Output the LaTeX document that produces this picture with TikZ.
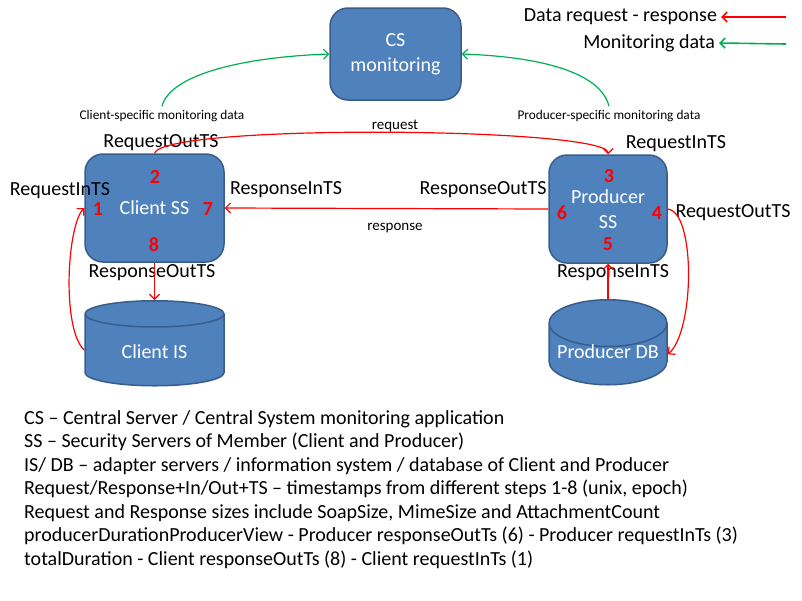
\documentclass[tikz,border=0pt]{standalone}
\usepackage{fontspec}
\setmainfont{Carlito}
\usetikzlibrary{shapes.geometric,arrows.meta}

\definecolor{boxfill}{HTML}{4F81BD}
\definecolor{boxline}{HTML}{385D8A}
\definecolor{mongreen}{HTML}{00B050}

\begin{document}
\begin{tikzpicture}
    [
    x=1pt,y=-1pt,
    server/.style={rectangle,draw=boxline,line width=1.5pt,fill=boxfill,rounded corners=18pt,text=white,align=center,inner sep=0pt,font=\fontsize{20}{25}\selectfont},
    store/.style={cylinder,shape border rotate=90,aspect=0.4,draw=boxline,line width=1.5pt,fill=boxfill,text=white,inner sep=0pt,minimum width=139pt,minimum height=85pt,anchor=north,font=\fontsize{20}{25}\selectfont},
    ts/.style={inner sep=0pt,font=\fontsize{20}{24}\selectfont},
    stepno/.style={inner sep=0pt,text=red,font=\bfseries\fontsize{20}{24}\selectfont},
    small/.style={inner sep=0pt,outer sep=4pt,font=\fontsize{13.3}{16}\selectfont},
    req/.style={draw=red,line width=1.2pt,-{Straight Barb[length=5pt,width=10pt]}},
    mon/.style={draw=mongreen,line width=1.2pt,-{Straight Barb[length=5pt,width=10pt]}}
    ]
    \useasboundingbox (0,0) rectangle (802,600);
    % servers and storages
    \node (cs) at (395.5,54) [server,minimum width=131pt,minimum height=92pt] {CS\\monitoring};
    \node (css) at (154.5,208) [server,minimum width=139pt,minimum height=108pt] {Client SS};
    \node (pss) at (608,209) [server,minimum width=118pt,minimum height=108pt] {Producer\\SS};
    \node (cis) at (154.5,300) [store] {\raisebox{-8pt}[0pt][0pt]{Client IS}};
    \node (pdb) at (608,299) [store,minimum width=118pt,aspect=0.46] {\raisebox{-4pt}[0pt][0pt]{Producer DB}};
    % step numbers
    \node (n1) at (98,209) [stepno] {1};
    \node (n2) at (155,177) [stepno] {2};
    \node (n7) at (208,209) [stepno] {7};
    \node (n8) at (154,245) [stepno] {8};
    \node (n3) at (609,176) [stepno] {3};
    \node (n4) at (657,213) [stepno] {4};
    \node (n5) at (608,244) [stepno] {5};
    \node (n6) at (562,213) [stepno] {6};
    % timestamps
    \node (cin) at (60,191) [ts] {RequestInTS};
    \node (cout) at (161,143) [ts] {RequestOutTS};
    \node (crin) at (286,190) [ts] {ResponseInTS};
    \node (crout) at (152,273) [ts] {ResponseOutTS};
    \node (pin) at (676,144) [ts] {RequestInTS};
    \node (pout) at (733,213) [ts] {RequestOutTS};
    \node (prout) at (483,190) [ts] {ResponseOutTS};
    \node (prin) at (613,273) [ts] {ResponseInTS};
    % monitoring labels
    \node (cmon) at (162,116) [small] {Client-specific monitoring data};
    \node (pmon) at (609,116) [small] {Producer-specific monitoring data};
    \node (rq) at (395,126) [small,font=\fontsize{15}{18}\selectfont] {request};
    \node (rs) at (395,228) [small,font=\fontsize{15}{18}\selectfont] {response};
    % legend
    \node (lgreq) at (721,17) [ts,anchor=east,outer sep=4pt] {Data request - response};
    \node (lgmon) at (719,43) [ts,anchor=east,outer sep=4pt] {Monitoring data};
    \coordinate (lgreq0) at (786,17);
    \coordinate (lgmon0) at (786,44);
    \draw [req,line width=1.6pt] (lgreq0) -- (lgreq.east);
    \draw [mon,line width=1.6pt] (lgmon0) -- (lgmon.east);
    % data flow
    \draw [req] (css.north) .. controls +(10,-30) and +(0,-27) .. (pss.north);
    \draw [req] (pss.west) -- (css.east);
    \draw [req] (cis.west) .. controls +(-23,-22) and +(-17,17) .. (css.west);
    \draw [req] (css.south) -- (cis.north);
    \draw [req] (pss.east) .. controls +(28,3) and +(27,-23) .. (pdb.east);
    \draw [req] (pdb.north) -- (pss.south);
    \draw [mon] (cmon.north) .. controls +(8,-32) and +(-85,3) .. (cs.west);
    \draw [mon] (pmon.north) .. controls +(-8,-32) and +(85,3) .. (cs.east);
    % explanations
    \foreach \txt [count=\i from 0] in {
      {CS – Central Server / Central System monitoring application},
      {SS – Security Servers of Member (Client and Producer)},
      {IS/ DB – adapter servers / information system / database of Client and Producer},
      {Request/Response+In/Out+TS – timestamps from different steps 1-8 (unix, epoch)},
      {Request and Response sizes include SoapSize, MimeSize and AttachmentCount},
      {producerDurationProducerView - Producer responseOutTs (6) - Producer requestInTs (3)},
      {totalDuration - Client responseOutTs (8) - Client requestInTs (1)}}
      \node (line\i) at (24,424+23.5*\i) [ts,anchor=base west] {\txt};
\end{tikzpicture}
\end{document}
